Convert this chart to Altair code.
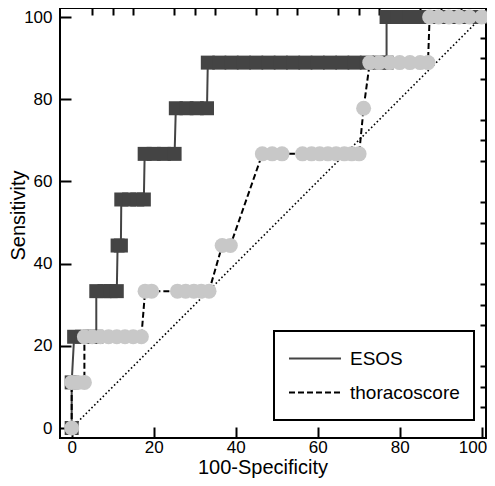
import altair as alt
import pandas as pd

FONT = "Liberation Sans"

# ---- data ----
esos_fpr = [0, 0,
            0.6, 2.5, 4.5, 6.0,
            6.0, 8.0, 9.5, 11.0,
            11.2, 12.0,
            12.1, 14.0, 16.0, 17.6,
            17.8, 20.0, 22.5, 25.1,
            25.4, 28.0, 30.5, 33.0,
            33.2, 36, 39, 42, 45, 48, 51, 54, 57, 60, 63, 66, 69, 72, 75, 76.8,
            76.8, 79.5, 82.5, 85.5, 88.5, 91.5, 94.5, 97.5, 100]
esos_sens = [0, 11.1,
             22.2, 22.2, 22.2, 22.2,
             33.3, 33.3, 33.3, 33.3,
             44.4, 44.4,
             55.6, 55.6, 55.6, 55.6,
             66.7, 66.7, 66.7, 66.7,
             77.8, 77.8, 77.8, 77.8,
             88.9, 88.9, 88.9, 88.9, 88.9, 88.9, 88.9, 88.9, 88.9, 88.9, 88.9, 88.9, 88.9, 88.9, 88.9, 88.9,
             100, 100, 100, 100, 100, 100, 100, 100, 100]

thor_fpr = [0,
            0, 1.5, 3.1,
            3.1, 5, 7, 9, 11, 13, 15, 17.0,
            17.9, 19.5, 25.8, 27.8, 29.8, 31.6, 33.5,
            36.7, 38.7,
            46.5, 48.9, 51.3, 56.3, 58.5, 60.5, 62.5, 64.5, 66.5, 68.3, 70.1,
            71.2,
            72.7, 75.0, 77.5, 80.0, 82.5, 85.0, 86.9,
            87.3, 89.5, 92.0, 94.5, 97.0, 100]
thor_sens = [0,
             11.1, 11.1, 11.1,
             22.2, 22.2, 22.2, 22.2, 22.2, 22.2, 22.2, 22.2,
             33.3, 33.3, 33.3, 33.3, 33.3, 33.3, 33.3,
             44.4, 44.4,
             66.7, 66.7, 66.7, 66.7, 66.7, 66.7, 66.7, 66.7, 66.7, 66.7, 66.7,
             77.8,
             88.9, 88.9, 88.9, 88.9, 88.9, 88.9, 88.9,
             100, 100, 100, 100, 100, 100]

diag_vals = [0, 100]
series_names = ["ESOS", "thoracoscore"]
x_major = [0, 20, 40, 60, 80, 100]
x_minor = [5, 10, 15, 25, 30, 35, 45, 50, 55, 65, 70, 75, 85, 90, 95]
y_major = [0, 20, 40, 60, 80, 100]
y_minor = [5, 10, 15, 25, 30, 35, 45, 50, 55, 65, 70, 75, 85, 90, 95]

esos = pd.DataFrame({"fpr": esos_fpr, "sens": esos_sens,
                     "idx": list(range(len(esos_fpr))), "score": series_names[0]})
thor = pd.DataFrame({"fpr": thor_fpr, "sens": thor_sens,
                     "idx": list(range(len(thor_fpr))), "score": series_names[1]})
lines = pd.concat([esos, thor], ignore_index=True)
diag = pd.DataFrame({"fpr": diag_vals, "sens": diag_vals})

W, H = 426, 430
X_DOM = [-2.85, 101.05]
Y_DOM = [-2.43, 102.19]


def xe(axis):
    return alt.X("fpr:Q", scale=alt.Scale(domain=X_DOM, nice=False, zero=False), axis=axis)


def ye(axis):
    return alt.Y("sens:Q", scale=alt.Scale(domain=Y_DOM, nice=False, zero=False), axis=axis)


x_major_axis = alt.Axis(values=x_major, tickSize=11, offset=-11, domain=False, grid=False,
                        labelFontSize=17, labelPadding=1, labelColor="black", labelFont=FONT,
                        tickColor="black", tickWidth=2, labelFlush=6, labelFlushOffset=5,
                        labelOverlap=False,
                        format="d", title="100-Specificity", titleFontSize=20,
                        titleFontWeight="normal", titleFont=FONT, titleColor="black",
                        titleX=202.5, titleY=46, titleBaseline="alphabetic", titleAlign="center")
y_major_axis = alt.Axis(values=y_major, tickSize=11, offset=-11, domain=False, grid=False,
                        labelFontSize=17, labelPadding=8, labelColor="black", labelFont=FONT,
                        tickColor="black", tickWidth=2, labelFlush=False, labelOverlap=False,
                        format="d", title="Sensitivity", titleFontSize=20,
                        titleFontWeight="normal", titleFont=FONT, titleColor="black",
                        titleX=-43, titleY=207, titleBaseline="bottom", titleAlign="center",
                        titleAngle=270)
x_minor_axis = alt.Axis(values=x_minor, tickSize=7, offset=-7, domain=False, grid=False,
                        labels=False, tickColor="black", tickWidth=2, title=None)
y_minor_axis = alt.Axis(values=y_minor, tickSize=6, offset=-6, domain=False, grid=False,
                        labels=False, tickColor="black", tickWidth=2, title=None)

diag_layer = alt.Chart(diag).mark_line(color="black", strokeWidth=1.6, strokeDash=[1.6, 2.4]).encode(
    x=xe(x_major_axis), y=ye(y_major_axis))

leg = alt.Legend(orient="none", legendX=214, legendY=323, title=None, symbolType="stroke",
                 symbolSize=2704, symbolStrokeWidth=2, labelFontSize=19, labelFont=FONT,
                 labelColor="black", padding=14, clipHeight=27, rowPadding=7, labelOffset=8,
                 strokeColor="black")

line_layer = alt.Chart(lines).mark_line(strokeWidth=2).encode(
    x=xe(None), y=ye(None),
    color=alt.Color("score:N", scale=alt.Scale(domain=series_names, range=["#444444", "#000000"]),
                    legend=leg),
    strokeDash=alt.StrokeDash("score:N", scale=alt.Scale(domain=series_names,
                                                         range=[[1, 0], [6, 3]]), legend=leg),
    order=alt.Order("idx:Q"),
)

esos_pts = alt.Chart(esos).mark_point(shape="square", filled=True, size=196, color="#444444",
                                      opacity=1, strokeWidth=0).encode(
    x=xe(x_minor_axis), y=ye(y_minor_axis))

thor_pts = alt.Chart(thor).mark_circle(size=225, color="#c8c8c8", opacity=1).encode(
    x=xe(None), y=ye(None))

chart = alt.layer(diag_layer, line_layer, esos_pts, thor_pts).resolve_axis(
    x="independent", y="independent"
).properties(
    width=W, height=H, autosize="none",
    padding={"left": 52, "top": 0, "right": 1, "bottom": 40},
).configure_view(stroke="black", strokeWidth=2).configure_legend(strokeWidth=2)

chart.save("out.html", embed_options={"renderer": "svg", "actions": False})
